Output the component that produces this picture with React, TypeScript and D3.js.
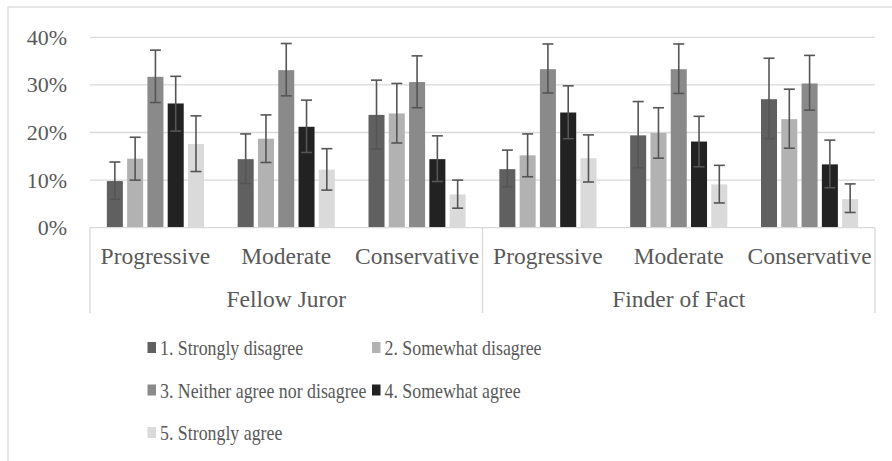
import React from 'react';
import * as d3 from 'd3';

// categories: outer group + inner stance
const groups = ['Fellow Juror', 'Finder of Fact'];
const stances = ['Progressive', 'Moderate', 'Conservative'];
const seriesNames = [
  '1. Strongly disagree',
  '2. Somewhat disagree',
  '3. Neither agree nor disagree',
  '4. Somewhat agree',
  '5. Strongly agree',
];
const yTicks = [0, 10, 20, 30, 40];

// percent values, order: FJ-Prog, FJ-Mod, FJ-Cons, FF-Prog, FF-Mod, FF-Cons
const strongDisagree = [9.8, 14.4, 23.7, 12.3, 19.4, 27.0];
const strongDisagreeLo = [6.0, 9.3, 16.5, 8.6, 12.6, 18.7];
const strongDisagreeHi = [13.8, 19.7, 31.0, 16.3, 26.5, 35.6];

const somewhatDisagree = [14.5, 18.7, 24.0, 15.2, 19.9, 22.8];
const somewhatDisagreeLo = [10.0, 13.7, 17.8, 10.7, 14.6, 16.7];
const somewhatDisagreeHi = [19.0, 23.7, 30.3, 19.7, 25.2, 29.1];

const neither = [31.7, 33.1, 30.6, 33.3, 33.3, 30.3];
const neitherLo = [26.3, 27.7, 25.2, 28.3, 28.2, 24.7];
const neitherHi = [37.3, 38.7, 36.1, 38.6, 38.6, 36.2];

const somewhatAgree = [26.1, 21.2, 14.4, 24.2, 18.1, 13.3];
const somewhatAgreeLo = [20.3, 15.8, 9.7, 18.7, 12.8, 8.4];
const somewhatAgreeHi = [31.8, 26.8, 19.3, 29.8, 23.4, 18.4];

const strongAgree = [17.6, 12.2, 7.0, 14.6, 9.1, 6.0];
const strongAgreeLo = [11.8, 7.9, 4.1, 9.6, 5.2, 3.2];
const strongAgreeHi = [23.5, 16.6, 10.0, 19.5, 13.1, 9.2];

const values = [strongDisagree, somewhatDisagree, neither, somewhatAgree, strongAgree];
const lows = [strongDisagreeLo, somewhatDisagreeLo, neitherLo, somewhatAgreeLo, strongAgreeLo];
const highs = [strongDisagreeHi, somewhatDisagreeHi, neitherHi, somewhatAgreeHi, strongAgreeHi];

const colors = ['#606060', '#b2b2b2', '#8a8a8a', '#222222', '#dadada'];

const W = 892;
const H = 461;
const FONT = '"Liberation Serif", "Times New Roman", serif';
const TEXT = '#595959';

export default function App() {
  const cats = groups.flatMap(g => stances.map(s => `${g}|${s}`));

  const x0 = d3.scaleBand().domain(cats).range([90, 875]);
  const x1 = d3.scaleBand()
    .domain(seriesNames)
    .range([0, x0.bandwidth()])
    .paddingInner(0.21)
    .paddingOuter(0.83);
  const y = d3.scaleLinear().domain([0, 40]).range([227.7, 37.3]);

  const groupX = d3.scaleBand().domain(groups).range([90, 875]);

  const capW = 11;

  return (
    <svg width={W} height={H} style={{ position: 'absolute', left: 0, top: 0, background: '#fff' }}>
      <rect x={8} y={7} width={W + 20} height={H + 20} fill="#fff" stroke="#d9d9d9" strokeWidth={1.3} />

      {/* gridlines + y labels */}
      {yTicks.map(t => (
        <g key={t}>
          {t > 0 && (
            <line x1={90} x2={875} y1={y(t)} y2={y(t)} stroke="#d9d9d9" strokeWidth={1.3} />
          )}
          <text x={67} y={y(t) + 7.5} textAnchor="end" fontFamily={FONT} fontSize={22} fill={TEXT}>
            {t}%
          </text>
        </g>
      ))}

      {/* bars */}
      {seriesNames.map((name, si) => (
        <g key={name}>
          {cats.map((c, ci) => {
            const bx = (x0(c) as number) + (x1(name) as number);
            const v = values[si][ci];
            return (
              <rect key={c} x={bx} y={y(v)} width={x1.bandwidth()} height={y(0) - y(v)} fill={colors[si]} />
            );
          })}
        </g>
      ))}

      {/* error bars */}
      {seriesNames.map((name, si) => (
        <g key={name + 'err'} stroke="#555" strokeWidth={1.6}>
          {cats.map((c, ci) => {
            const cx = (x0(c) as number) + (x1(name) as number) + x1.bandwidth() / 2;
            const lo = y(lows[si][ci]);
            const hi = y(highs[si][ci]);
            return (
              <g key={c}>
                <line x1={cx} x2={cx} y1={lo} y2={hi} />
                <line x1={cx - capW / 2} x2={cx + capW / 2} y1={hi} y2={hi} />
                <line x1={cx - capW / 2} x2={cx + capW / 2} y1={lo} y2={lo} />
              </g>
            );
          })}
        </g>
      ))}

      {/* axis box */}
      <line x1={90} x2={875} y1={y(0)} y2={y(0)} stroke="#d9d9d9" strokeWidth={1.3} />
      {[90, 482.5, 875].map(xv => (
        <line key={xv} x1={xv} x2={xv} y1={y(0)} y2={313} stroke="#d9d9d9" strokeWidth={1.3} />
      ))}

      {cats.map(c => (
        <text
          key={c}
          x={(x0(c) as number) + x0.bandwidth() / 2}
          y={264}
          textAnchor="middle"
          fontFamily={FONT}
          fontSize={23.5}
          fill={TEXT}
        >
          {c.split('|')[1]}
        </text>
      ))}
      {groups.map(g => (
        <text
          key={g}
          x={(groupX(g) as number) + groupX.bandwidth() / 2}
          y={307}
          textAnchor="middle"
          fontFamily={FONT}
          fontSize={23.5}
          fill={TEXT}
        >
          {g}
        </text>
      ))}

      {/* legend */}
      {seriesNames.map((name, i) => {
        const col = i % 2;
        const row = Math.floor(i / 2);
        const mx = col === 0 ? 147.5 : 372;
        const by = 355 + row * 42.5;
        return (
          <g key={name + 'leg'}>
            <rect x={mx} y={by - 13} width={8.5} height={11} fill={colors[i]} />
            <text
              transform={`translate(${mx + 12.5},${by}) scale(0.85,1)`}
              fontFamily={FONT}
              fontSize={21}
              fill={TEXT}
            >
              {name}
            </text>
          </g>
        );
      })}
    </svg>
  );
}
